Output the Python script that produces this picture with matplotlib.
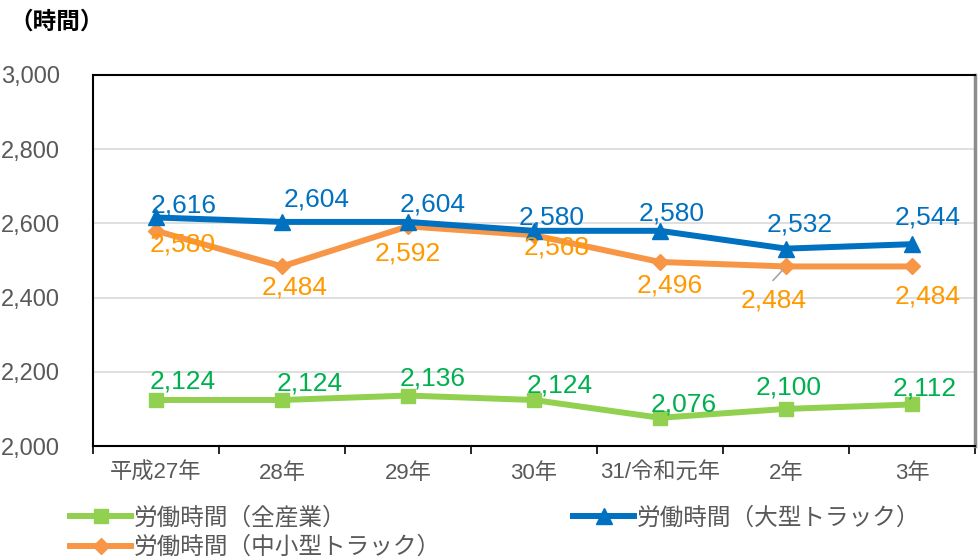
import matplotlib
matplotlib.use("Agg")
import matplotlib.pyplot as plt
import numpy as np

plt.rcParams['font.family'] = ['Liberation Sans', 'Noto Sans CJK JP']

# data
categories = ["平成27年", "28年", "29年", "30年", "31/令和元年", "2年", "3年"]
hours_all = [2124, 2124, 2136, 2124, 2076, 2100, 2112]
hours_large = [2616, 2604, 2604, 2580, 2580, 2532, 2544]
hours_small = [2580, 2484, 2592, 2568, 2496, 2484, 2484]
yticks = [2000, 2200, 2400, 2600, 2800, 3000]

# label offsets in pixels (dx, dy up)
off_all = [(27, 18), (28, 16), (25, 17), (26, 14), (24, 13), (3, 21), (13, 16)]
off_large = [(28, 12), (35, 22), (25, 17), (18, 13), (12, 17), (14, 24), (16, 27)]
off_small = [(27, -14), (13, -21), (0, -27), (23, -12), (10, -24), (-12, -34), (16, -30)]

fig = plt.figure(figsize=(9.8, 5.59), dpi=100)
ax = fig.add_axes([93 / 980, 1 - 446 / 559, 882 / 980, 371 / 559])

x = np.arange(len(categories))

l_all, = ax.plot(x, hours_all, color='#92D050', lw=4.3, marker='s', ms=10,
                 label='労働時間（全産業）', zorder=3)
l_large, = ax.plot(x, hours_large, color='#0070C0', lw=4.3, marker='^', ms=11,
                   label='労働時間（大型トラック）', zorder=4)
l_small, = ax.plot(x, hours_small, color='#F79646', lw=4.3, marker='D', ms=8,
                   label='労働時間（中小型トラック）', zorder=3)

def put_labels(vals, offs, color):
    for i, (v, (dx, dy)) in enumerate(zip(vals, offs)):
        ax.annotate(f"{v:,}", (i, v), xytext=(dx, dy), textcoords='offset pixels',
                    ha='center', va='center', fontsize=19, color=color, zorder=6)

put_labels(hours_all, off_all, '#00B050')
put_labels(hours_large, off_large, '#0070C0')
put_labels(hours_small, off_small, '#FF9900')

# leader line for the 2年 orange label
ax.annotate("", (5, hours_small[5]), xytext=(-13, -14), textcoords='offset pixels',
            arrowprops=dict(arrowstyle='-', color='#A6A6A6', lw=1.2, shrinkA=0, shrinkB=3))

ax.set_xlim(-0.5, len(categories) - 0.5)
ax.set_ylim(2000, 3000)
ax.set_yticks(yticks)
ax.set_yticklabels([f"{t:,}" for t in yticks])
ax.set_xticks(x)
ax.set_xticklabels(categories)
ax.set_xticks(np.arange(-0.5, len(categories)), minor=True)
ax.tick_params(axis='x', which='major', length=0, pad=12, labelsize=16, labelcolor='#595959')
ax.tick_params(axis='x', which='minor', length=6, width=1.2, color='black', direction='out')
ax.tick_params(axis='y', length=0, pad=24, labelsize=17, labelcolor='#595959')

for t in yticks[1:-1]:
    ax.axhline(t, color='#D9D9D9', lw=1.2, zorder=1)

for s in ['left', 'top', 'bottom']:
    ax.spines[s].set_color('black')
    ax.spines[s].set_linewidth(1.5)
ax.spines['right'].set_color('#8C8C8C')
ax.spines['right'].set_linewidth(2.5)

fig.text(9 / 980, 1 - 22 / 559, "（時間）", fontsize=17, color='black',
         ha='left', va='center', fontweight='bold')

fig.legend(handles=[l_all, l_small, l_large], ncol=2, loc='upper left',
           bbox_to_anchor=(70 / 980, 1 - 507 / 559), frameon=False,
           fontsize=17, labelcolor='#595959', handlelength=2.6, handletextpad=0.1,
           columnspacing=5.6, labelspacing=0.3, borderaxespad=0, borderpad=0)

fig.savefig("out.png", dpi=100)
